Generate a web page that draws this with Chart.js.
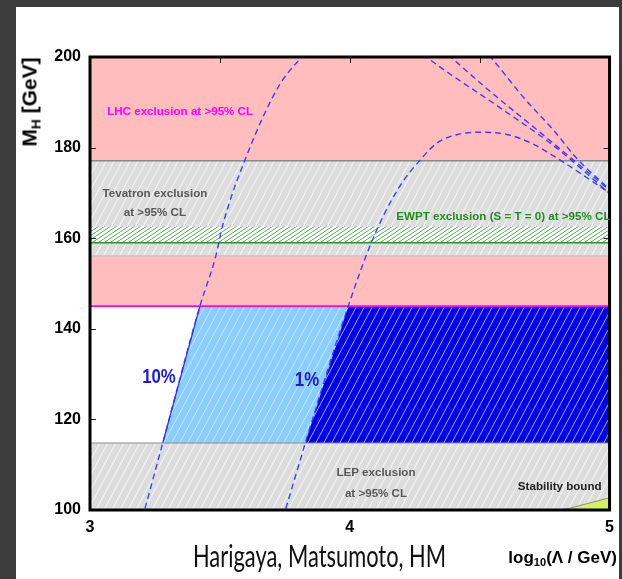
<!DOCTYPE html>
<html><head><meta charset="utf-8">
<script src="https://cdn.jsdelivr.net/npm/chart.js@4/dist/chart.umd.min.js"></script>
<style>
html,body{margin:0;padding:0;background:#3c3c3c;width:622px;height:579px;overflow:hidden;}
#panel{position:absolute;left:16px;top:7px;width:603px;height:572px;background:#fff;}
#c{position:absolute;left:0;top:0;}
.ann{position:absolute;white-space:nowrap;font-family:'Liberation Sans',Arial,sans-serif;font-weight:bold;font-size:11.6px;line-height:1;}
#ytitle{position:absolute;left:29px;top:102px;transform:translate(-50%,-50%) rotate(-90deg);font-family:'Liberation Sans',Arial,sans-serif;font-weight:bold;font-size:21px;line-height:1;white-space:nowrap;color:#000;}
#xtitle{position:absolute;right:5px;top:549px;font-family:'Liberation Sans',Arial,sans-serif;font-weight:bold;font-size:17px;line-height:1;white-space:nowrap;color:#000;}
#credit{position:absolute;left:193px;top:540px;font-family:'Lato','Open Sans',sans-serif;font-weight:400;font-size:30px;line-height:1;white-space:nowrap;color:#111;transform-origin:0 50%;}
sub{font-size:0.65em;vertical-align:-0.3em;line-height:0;}
#rstrip{position:absolute;left:619px;top:0;width:3px;height:579px;background:#3c3c3c;}
</style></head><body>
<div id="panel"></div>
<canvas id="c" width="622" height="579"></canvas>
<div id="ytitle">M<sub>H</sub> [GeV]</div>
<div id="credit">Harigaya, Matsumoto, HM</div>
<div id="xtitle">log<sub>10</sub>(Λ / GeV)</div>
<div id="rstrip"></div>
<script>
// ---- axis ticks ----
const logTicks = [3, 4, 5];
const massTicks = [100, 120, 140, 160, 180, 200];
const logTickMarks = [3.5, 4, 4.5];
const massTickMarks = [120, 140, 160, 180];

// ---- exclusion bands, M_H in GeV ----
const lhcBand = [145, 200];
const tevatronBand = [156.1, 177.1];
const ewptBand = [159.0, 162.6];
const lepBand = [100, 114.8];

// ---- fine-tuning region edges (log10 Λ, M_H) ----
const edge10 = [[3.280, 114.8], [3.423, 145]];
const edge1 = [[3.829, 114.8], [3.994, 145]];
const stabilityBound = [[4.82, 100], [5.0, 102.7]];

// ---- dashed contours (log10 Λ, M_H) ----
const curve10 = [[3.18, 94], [3.21, 100], [3.280, 114.8], [3.423, 145], [3.484, 156], [3.51, 162.7], [3.605, 178.5], [3.727, 193.6], [3.815, 200], [3.87, 203.5]];
const curve1 = [[3.72, 94], [3.752, 100], [3.829, 114.8], [3.994, 145], [4.09, 160], [4.185, 170.8], [4.273, 177.4], [4.338, 181.1], [4.415, 182.9], [4.503, 183.4], [4.606, 182.9], [4.694, 181.1], [4.786, 178.1], [5.0, 170.0]];
const curveA = [[4.25, 201.8], [4.294, 200], [4.377, 196.6], [4.568, 189.2], [4.785, 180.4], [5.0, 169.9]];
const curveB = [[4.35, 202], [4.389, 200], [4.53, 192.9], [4.734, 183.3], [5.0, 170.6]];
const curveC = [[4.51, 202], [4.542, 200], [4.67, 191], [4.785, 183.8], [4.874, 177.6], [5.0, 170.8]];

const xMin = logTicks[0], xMax = logTicks[logTicks.length - 1];
const yMin = massTicks[0], yMax = massTicks[massTicks.length - 1];

function pts(arr) { return arr.map(p => ({x: p[0], y: p[1]})); }
function hline(v) { return [{x: xMin, y: v}, {x: xMax, y: v}]; }

function hatch(bg, line, w, h, lw) {
  const c = document.createElement('canvas'); c.width = w; c.height = h;
  const g = c.getContext('2d');
  if (bg) { g.fillStyle = bg; g.fillRect(0, 0, w, h); }
  g.strokeStyle = line; g.lineWidth = lw;
  g.beginPath();
  for (let k = -1; k <= 1; k++) { g.moveTo(k * w, h); g.lineTo(k * w + w, 0); }
  g.stroke();
  return g.createPattern(c, 'repeat');
}
const ctx = document.getElementById('c').getContext('2d');
const grayHatch = hatch('#dddddd', 'rgba(255,255,255,0.85)', 8, 15, 0.9);
const lightBlueHatch = hatch('#8acdff', 'rgba(255,255,255,0.6)', 8, 15, 0.9);
const darkBlueHatch = hatch('#0000e6', 'rgba(255,255,255,0.75)', 8, 15, 0.9);
const greenHatch = hatch('#ffffff', '#3ca03c', 6, 4, 0.9);

const area = (data, base, bg, order) => ({data, fill: {value: base}, backgroundColor: bg, borderWidth: 0, pointRadius: 0, order});
const solid = (data, color, w, order) => ({data, fill: false, borderColor: color, borderWidth: w, pointRadius: 0, order});
const dashed = (arr) => ({data: pts(arr), fill: false, borderColor: 'rgba(45,45,255,0.9)', borderWidth: 1.4, borderDash: [6, 4], pointRadius: 0, cubicInterpolationMode: 'monotone', order: 5});

const datasets = [
  dashed(curve10), dashed(curve1), dashed(curveA), dashed(curveB), dashed(curveC),
  solid(pts(edge10), '#2a2aff', 1.2, 20),
  solid(hline(lhcBand[0]), '#ff00ff', 1.6, 30),
  solid(hline(ewptBand[0]), '#1f9a1f', 1.6, 30),
  solid(hline(tevatronBand[1]), '#8a8a8a', 1.3, 30),
  solid(hline(tevatronBand[0]), '#c4c4c4', 1.4, 30),
  solid(hline(lepBand[1]), '#8c8c8c', 1.1, 30),
  Object.assign(area(pts(stabilityBound), yMin, '#d8f25e', 60), {borderColor: '#8a8a8a', borderWidth: 1}),
  area([{x: edge1[0][0], y: edge1[0][1]}, {x: edge1[1][0], y: edge1[1][1]}, {x: xMax, y: edge1[1][1]}], edge1[0][1], darkBlueHatch, 70),
  area([{x: edge10[0][0], y: edge10[0][1]}, {x: edge10[1][0], y: edge10[1][1]}, {x: xMax, y: edge10[1][1]}], edge10[0][1], lightBlueHatch, 75),
  area(hline(ewptBand[1]), ewptBand[0], greenHatch, 80),
  area(hline(tevatronBand[1]), tevatronBand[0], grayHatch, 85),
  area(hline(lepBand[1]), lepBand[0], grayHatch, 85),
  area(hline(lhcBand[1]), lhcBand[0], '#ffbdbd', 100)
];

const framePlugin = {
  id: 'frame',
  afterDatasetsDraw(chart) {
    const {ctx, chartArea: a, scales: {x, y}} = chart;
    ctx.save();
    ctx.strokeStyle = '#222'; ctx.lineWidth = 1;
    ctx.beginPath();
    logTickMarks.forEach(v => { const px = Math.round(x.getPixelForValue(v)) + 0.5; ctx.moveTo(px, a.top); ctx.lineTo(px, a.top + 6); });
    massTickMarks.forEach(v => { const py = Math.round(y.getPixelForValue(v)) + 0.5; ctx.moveTo(a.left, py); ctx.lineTo(a.left + 6, py); ctx.moveTo(a.right, py); ctx.lineTo(a.right - 6, py); });
    ctx.stroke();
    ctx.lineWidth = 3; ctx.strokeStyle = '#000';
    ctx.strokeRect(a.left, a.top, a.right - a.left, a.bottom - a.top);
    ctx.restore();
  }
};

const tickFont = {family: "'Liberation Sans', Arial, sans-serif", size: 16, weight: 'bold'};
const chart = new Chart(ctx, {
  type: 'line',
  data: {datasets},
  options: {
    responsive: false, animation: false, events: [],
    layout: {padding: {left: 0, top: 57, right: 9, bottom: 39}},
    plugins: {legend: {display: false}, tooltip: {enabled: false}},
    scales: {
      x: {type: 'linear', min: xMin, max: xMax, position: 'bottom',
          grid: {display: false, drawTicks: false}, border: {display: false},
          ticks: {padding: 8, color: '#000', font: tickFont, maxRotation: 0},
          afterBuildTicks: s => { s.ticks = logTicks.map(v => ({value: v})); },
          afterFit: s => { s.height = 30; }},
      y: {type: 'linear', min: yMin, max: yMax,
          grid: {display: false, drawTicks: false}, border: {display: false},
          ticks: {padding: 9, color: '#000', font: tickFont},
          afterBuildTicks: s => { s.ticks = massTicks.map(v => ({value: v})); },
          afterFit: s => { s.width = 90; }}
    }
  },
  plugins: [framePlugin]
});

// ---- text annotations placed through the chart scales ----
const annotations = [
  {html: 'LHC exclusion at &gt;95% CL', x: 3.066, y: 188.1, align: 'left', color: '#ff00ff'},
  {html: 'Tevatron exclusion<br>at &gt;95% CL', x: 3.25, y: 167.95, align: 'center', color: '#585858', lh: 19},
  {html: 'EWPT exclusion (S = T = 0) at &gt;95% CL', x: 4.179, y: 164.9, align: 'left', color: '#1f8f1f'},
  {html: 'LEP exclusion<br>at &gt;95% CL', x: 4.101, y: 106.1, align: 'center', color: '#585858', lh: 21},
  {html: 'Stability bound', x: 4.647, y: 105.3, align: 'left', color: '#222'},
  {html: '10%', x: 3.265, y: 129.8, align: 'center', color: '#1a1ae0', size: 21, sx: 0.8},
  {html: '1%', x: 3.835, y: 129.1, align: 'center', color: '#1a1ae0', size: 21, sx: 0.8}
];
annotations.forEach(a => {
  const d = document.createElement('div');
  d.className = 'ann';
  d.innerHTML = a.html;
  d.style.color = a.color;
  if (a.size) d.style.fontSize = a.size + 'px';
  if (a.lh) { d.style.lineHeight = a.lh + 'px'; }
  d.style.textAlign = a.align;
  d.style.left = chart.scales.x.getPixelForValue(a.x) + 'px';
  d.style.top = chart.scales.y.getPixelForValue(a.y) + 'px';
  const tx = a.align === 'center' ? '-50%' : '0';
  d.style.transform = `translate(${tx},-50%)` + (a.sx ? ` scaleX(${a.sx})` : '');
  document.body.insertBefore(d, document.getElementById('rstrip'));
});
const credit = document.getElementById('credit');
credit.style.transform = `scaleX(${253 / credit.offsetWidth})`;
</script>
</body></html>
